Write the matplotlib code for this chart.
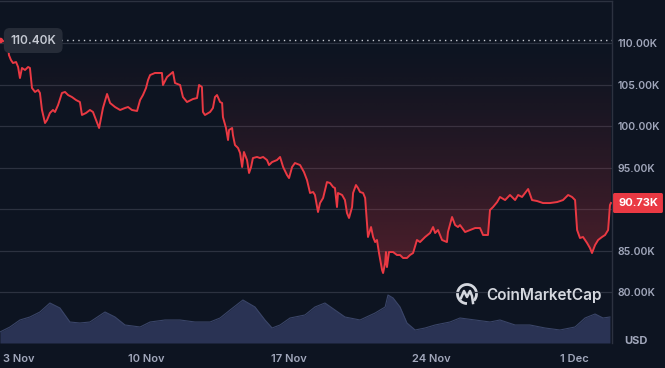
import numpy as np
import matplotlib
matplotlib.use("Agg")
import matplotlib.pyplot as plt
from matplotlib.patches import Arc
from matplotlib.lines import Line2D

# days after 3 Nov 00:00, price in thousands USD
price_days = [-0.15, 0.25, 0.29, 0.39, 0.49, 0.64, 0.74, 0.83, 0.93, 1.08, 1.23, 1.32, 1.42, 1.57, 1.72,
              1.81, 1.91, 2.06, 2.16, 2.30, 2.45, 2.55, 2.70, 2.89, 3.04, 3.19, 3.38, 3.58, 3.77, 3.87,
              4.07, 4.26, 4.41, 4.56, 4.71, 4.90, 5.10, 5.25, 5.49, 5.74, 5.98, 6.13, 6.32, 6.57, 6.72,
              6.86, 7.01, 7.11, 7.21, 7.45, 7.79, 7.84, 8.04, 8.33, 8.43, 8.68, 8.82, 9.02, 9.31, 9.51,
              9.61, 9.75, 9.80, 9.90, 10.15, 10.29, 10.39, 10.49, 10.64, 10.74, 10.78, 10.93, 11.03, 11.08,
              11.23, 11.27, 11.37, 11.52, 11.62, 11.72, 11.81, 11.96, 12.06, 12.16, 12.25, 12.45, 12.60,
              12.75, 12.94, 13.04, 13.19, 13.43, 13.58, 13.73, 13.92, 14.02, 14.17, 14.31, 14.56, 14.75,
              14.90, 15.05, 15.20, 15.29, 15.44, 15.54, 15.69, 15.88, 16.03, 16.18, 16.27, 16.37, 16.42,
              16.62, 16.76, 16.86, 16.96, 17.11, 17.16, 17.30, 17.40, 17.50, 17.65, 17.75, 17.84, 17.89,
              18.04, 18.14, 18.24, 18.33, 18.43, 18.58, 18.63, 18.73, 18.77, 18.82, 18.92, 19.12, 19.31,
              19.46, 19.61, 19.80, 19.95, 20.10, 20.29, 20.44, 20.69, 20.93, 21.08, 21.18, 21.32, 21.52,
              21.76, 21.81, 22.01, 22.16, 22.30, 22.40, 22.65, 22.89, 23.14, 23.38, 23.53, 23.77, 23.87,
              24.02, 24.22, 24.36, 24.61, 24.85, 25.10, 25.25, 25.44, 25.59, 25.74, 25.93, 26.18, 26.47,
              26.81, 27.16, 27.45, 27.70, 27.89, 28.04, 28.14, 28.28, 28.43, 28.63, 28.77, 28.87, 29.02,
              29.17, 29.36, 29.51, 29.66, 29.75, 29.80]
price_k = [110.40, 110.00, 108.55, 107.95, 107.59, 107.71, 107.11, 105.78, 106.99, 106.75, 107.11, 106.99,
           104.58, 104.10, 104.34, 103.98, 101.93, 100.36, 100.72, 101.57, 101.93, 101.69, 102.53, 103.98,
           104.10, 103.73, 103.49, 103.13, 102.89, 101.33, 101.57, 101.93, 101.69, 100.72, 99.76, 102.17,
           103.86, 102.77, 102.29, 101.93, 102.17, 102.29, 101.93, 101.81, 103.13, 103.73, 104.58, 105.54,
           106.14, 106.39, 106.39, 104.94, 105.90, 106.51, 105.18, 104.94, 103.49, 102.89, 103.25, 103.37,
           104.94, 104.70, 101.69, 101.33, 101.69, 102.17, 103.49, 103.73, 102.89, 102.77, 101.08, 99.76,
           98.31, 99.52, 99.76, 98.92, 97.71, 97.35, 96.75, 95.06, 96.87, 95.90, 94.34, 95.06, 96.14,
           96.27, 96.14, 96.27, 95.90, 95.30, 95.66, 95.90, 96.27, 95.06, 94.10, 93.73, 95.06, 95.54,
           95.30, 94.46, 93.49, 91.93, 92.05, 91.69, 89.64, 90.72, 91.33, 93.25, 93.13, 92.65, 92.53,
           90.24, 91.93, 91.69, 91.08, 89.52, 88.92, 90.24, 91.93, 92.89, 92.53, 92.05, 91.93, 91.33,
           88.31, 86.63, 87.83, 86.63, 86.02, 86.27, 84.70, 82.65, 82.29, 83.49, 84.82, 83.01, 84.82,
           84.82, 84.46, 84.46, 84.10, 84.10, 84.46, 84.70, 86.27, 86.02, 86.63, 87.11, 87.83, 87.11,
           87.47, 86.27, 86.02, 87.23, 89.04, 88.07, 87.83, 88.07, 87.23, 87.47, 87.71, 87.71, 86.87,
           86.87, 89.88, 90.24, 90.84, 91.45, 91.08, 91.69, 91.08, 91.69, 91.45, 91.93, 92.41, 91.08,
           90.96, 90.72, 90.72, 90.84, 91.08, 91.69, 91.45, 91.08, 87.47, 86.51, 86.63, 85.90, 85.30,
           84.70, 85.66, 86.27, 86.63, 86.87, 87.47, 90.48, 90.73]

vol_days = [-0.15, 0.34, 0.83, 1.32, 1.81, 2.30, 2.79, 3.28, 3.77, 4.26, 5.00, 5.49, 5.98, 6.72, 7.21,
            7.94, 8.68, 9.41, 10.15, 10.64, 11.13, 11.76, 12.35, 12.84, 13.19, 13.58, 14.07, 14.80,
            15.29, 15.78, 16.27, 16.76, 17.50, 18.24, 18.73, 18.87, 19.12, 19.46, 19.80, 20.20, 20.69,
            21.18, 21.91, 22.40, 23.14, 23.87, 24.36, 25.10, 25.83, 26.57, 27.30, 28.04, 28.53, 29.02,
            29.41, 29.75]
vol_b = [22, 32, 46, 52, 62, 80, 70, 42, 40, 42, 62, 52, 36, 32, 42, 46, 46, 42, 42, 50, 66, 86, 72, 46,
         30, 36, 50, 56, 72, 80, 66, 52, 46, 60, 72, 96, 90, 72, 40, 26, 30, 36, 42, 50, 46, 42, 46, 36,
         36, 30, 26, 32, 50, 58, 50, 52]

tick_days = [0, 7, 14, 21, 28]
tick_names = ['3 Nov', '10 Nov', '17 Nov', '24 Nov', '1 Dec']
price_ticks = [80, 85, 90, 95, 100, 105, 110]
open_price = price_k[0]
last_price = price_k[-1]

BG = '#0d1421'
RED = '#ea3943'
GRID = '#2c3240'
LABEL = '#a1a7bb'

plt.rcParams['font.family'] = ['Inter', 'DejaVu Sans']

fig = plt.figure(figsize=(6.65, 3.68), dpi=100, facecolor=BG)
ax = fig.add_axes([0, 25 / 368, 612 / 665, 342 / 368])
ax.set_facecolor(BG)
ax.set_xlim(-0.147, 29.85)
ax.set_ylim(73.86, 115.06)

# volume on its own scale
vax = ax.twinx()
vax.set_ylim(0, 684)
vax.fill_between(vol_days, vol_b, 0, color='#2a3354', lw=0, zorder=1)
vax.plot(vol_days, vol_b, color='#3a4568', lw=0.8, zorder=2)
vax.axis('off')
ax.set_zorder(vax.get_zorder() + 1)
ax.patch.set_visible(False)
vax.patch.set_visible(False)

for v in price_ticks:
    ax.axhline(v, color=GRID, lw=0.9, zorder=0)

# gradient fill between price and opening price
poly = ax.fill_between(price_days, price_k, open_price, color='none', lw=0)
yy = np.linspace(1, 0, 300)[:, None]
vals = 73.86 + yy * (115.06 - 73.86)
alpha = np.clip((open_price - vals) / 28, 0, 1) ** 1.3 * 0.3
grad = np.zeros((300, 2, 4))
grad[..., 0], grad[..., 1], grad[..., 2] = 234 / 255, 57 / 255, 67 / 255
grad[..., 3] = alpha
im = ax.imshow(grad, extent=[-0.147, 29.85, 73.86, 115.06], aspect='auto', zorder=1)
im.set_clip_path(poly.get_paths()[0], transform=ax.transData)

ax.axhline(open_price, color='#c8ccd4', lw=1, ls=(0, (1, 3)), zorder=2)
ax.plot(price_days, price_k, color=RED, lw=1.4, zorder=3, solid_joinstyle='round')

for s in ['left', 'bottom']:
    ax.spines[s].set_visible(False)
for s in ['top', 'right']:
    ax.spines[s].set_color(GRID)
    ax.spines[s].set_linewidth(1)

# 90K label sits under the last-price badge in the original
ax.yaxis.tick_right()
ax.set_yticks(price_ticks)
ax.set_yticklabels(['' if v == 90 else '%.2fK' % v for v in price_ticks])
ax.set_xticks(tick_days)
ax.set_xticklabels(tick_names)
ax.tick_params(axis='y', length=0, pad=4, labelsize=7.5, labelcolor=LABEL)
ax.tick_params(axis='x', length=0, pad=8, labelsize=8, labelcolor=LABEL)
for lab in ax.get_yticklabels() + ax.get_xticklabels():
    lab.set_fontweight('semibold')
ax.get_xticklabels()[0].set_horizontalalignment('left')
ax.get_xticklabels()[0].set_x(-0.1)

# price badges
ax.text(0.36, open_price - 0.1, '%.2fK' % open_price, color='#c5c9d2', fontsize=8.5, fontweight='semibold',
        va='center', ha='left', zorder=5,
        bbox=dict(boxstyle='round,pad=0.55,rounding_size=0.5', fc='#262c38', ec='none'))
ax.plot([-0.147], [open_price], marker='o', ms=3, color=RED, zorder=6, clip_on=False)
fig.text(638 / 665, 1 - 203 / 368, '%.2fK' % last_price, color='white', fontsize=8, fontweight='bold',
         ha='center', va='center',
         bbox=dict(boxstyle='round,pad=0.45,rounding_size=0.15', fc=RED, ec='none'))
fig.text(636 / 665, 1 - 341 / 368, 'USD', color=LABEL, fontsize=8, fontweight='bold',
         ha='center', va='center')

# watermark
cx, cy, r = 467, 294, 9.5
fig.add_artist(Arc((cx / 665, 1 - cy / 368), 2 * r / 665, 2 * r / 368, theta1=-60, theta2=270,
                   transform=fig.transFigure, color='#d4d7de', lw=2))
wave_x = [cx - 6, cx - 3, cx, cx + 3, cx + 5, cx + 6]
wave_y = [cy + 4, cy - 3, cy + 3, cy - 3, cy + 2, cy + 9]
fig.add_artist(Line2D([x / 665 for x in wave_x], [1 - y / 368 for y in wave_y],
                      transform=fig.transFigure, color='#d4d7de', lw=1.8, solid_joinstyle='round'))
fig.text(486 / 665, 1 - 295 / 368, 'CoinMarketCap', color='#d4d7de', fontsize=11, fontweight='semibold',
         ha='left', va='center')

fig.savefig('out.png', dpi=100, facecolor=BG)
